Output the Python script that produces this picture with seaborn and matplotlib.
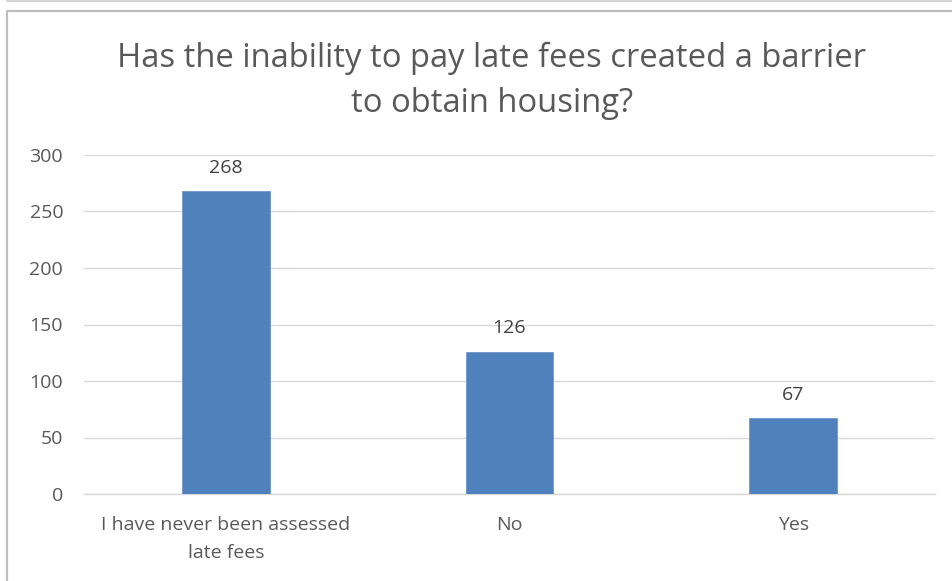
import matplotlib
matplotlib.use("Agg")
import matplotlib.pyplot as plt
import seaborn as sns
import pandas as pd
from matplotlib.lines import Line2D

categories = ["I have never been assessed\nlate fees", "No", "Yes"]
counts = [268, 126, 67]
y_ticks = [0, 50, 100, 150, 200, 250, 300]
title = "Has the inability to pay late fees created a barrier\nto obtain housing?"

sns.set_theme(style="white")
plt.rcParams["font.family"] = ["Open Sans", "DejaVu Sans"]

W, H = 953, 581
fig = plt.figure(figsize=(W / 100, H / 100), dpi=100)
fig.patch.set_facecolor("white")

# plot area in pixel coordinates
left, right, top, bottom = 84, 935, 155, 494
ax = fig.add_axes([left / W, 1 - bottom / H, (right - left) / W, (bottom - top) / H])

df = pd.DataFrame({"category": categories, "count": counts})
sns.barplot(data=df, x="category", y="count", color="#4F81BD", saturation=1,
            width=0.31, ax=ax, edgecolor="#6d97cc", linewidth=0.6, zorder=3)

ax.set_ylim(0, 300)
ax.set_xlim(-0.5, 2.5)
ax.set_yticks(y_ticks)
ax.set_yticklabels([str(t) for t in y_ticks])
ax.yaxis.grid(True, color="#d9d9d9", linewidth=1.0, zorder=0)
ax.set_axisbelow(True)
for s in ["top", "right", "left"]:
    ax.spines[s].set_visible(False)
ax.spines["bottom"].set_color("#d9d9d9")
ax.spines["bottom"].set_linewidth(1.0)
ax.tick_params(axis="both", length=0, colors="#595959", labelsize=14)
ax.tick_params(axis="y", pad=15)
ax.tick_params(axis="x", pad=15.5)
ax.set_xlabel("")
ax.set_ylabel("")
for lbl in ax.get_xticklabels():
    lbl.set_linespacing(1.75)

for i, v in enumerate(counts):
    ax.annotate(str(v), (i, v), xytext=(0, 10.5), textcoords="offset points",
                ha="center", va="bottom", fontsize=14, color="#404040")

fig.text(492 / W, 1 - 81 / H, title, ha="center", va="center", fontsize=23.6,
         color="#595959", linespacing=1.45)

# chart frame
fig.add_artist(Line2D([7 / W, 1], [1 - 0.8 / H, 1 - 0.8 / H], transform=fig.transFigure,
                      color="#d4d4d4", linewidth=1.5))
fig.add_artist(Line2D([7.5 / W, 7.5 / W, 1], [0, 1 - 10.5 / H, 1 - 10.5 / H],
                      transform=fig.transFigure, color="#bfbfbf", linewidth=1.6))

fig.savefig("out.png", dpi=100, facecolor="white")
